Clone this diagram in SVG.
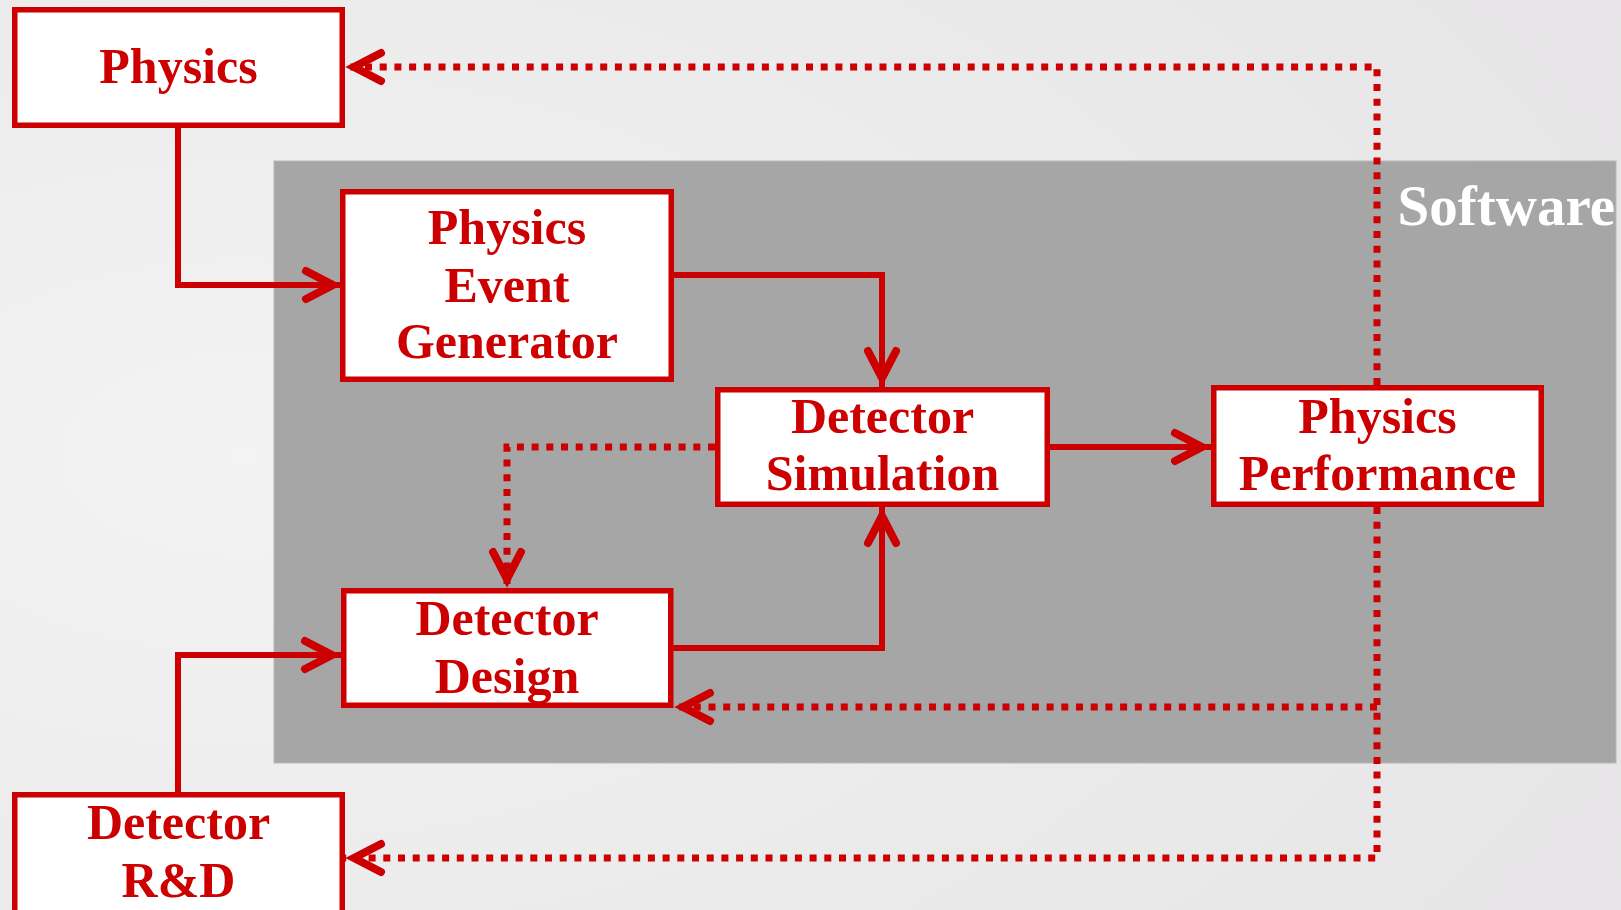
<svg xmlns="http://www.w3.org/2000/svg" width="1621" height="910" viewBox="0 0 1621 910">
  <defs>
    <radialGradient id="bg" cx="0.15" cy="0.5" r="1.1">
      <stop offset="0" stop-color="#f3f3f3"/>
      <stop offset="1" stop-color="#e5e3e5"/>
    </radialGradient>
    <marker id="arrow" markerUnits="userSpaceOnUse" viewBox="-45 -22 55 44" markerWidth="55" markerHeight="44" refX="0" refY="0" orient="auto">
      <path d="M -36 -14 L -9 0 L -36 14" fill="none" stroke="#cc0000" stroke-width="8" stroke-linecap="round" stroke-linejoin="miter"/>
    </marker>
    <style>
      .box { fill: #ffffff; stroke: #cc0000; stroke-width: 5.5; }
      .label { font-family: "Liberation Serif", "Times New Roman", serif; font-weight: bold; font-size: 50px; fill: #cc0000; text-anchor: middle; }
      .solid { fill: none; stroke: #cc0000; stroke-width: 6; marker-end: url(#arrow); }
      .dotted { fill: none; stroke: #cc0000; stroke-width: 7; stroke-dasharray: 7 7.7; marker-end: url(#arrow); }
      .title { font-family: "Liberation Serif", "Times New Roman", serif; font-weight: bold; font-size: 57px; fill: #ffffff; text-anchor: end; }
    </style>
  </defs>

  <!-- page background -->
  <rect x="0" y="0" width="1621" height="910" fill="url(#bg)"/>

  <!-- software region -->
  <g id="software">
    <rect x="274" y="161" width="1342" height="602" fill="#a6a6a6" stroke="#b8b8b8" stroke-width="1"/>
    <text class="title" x="1615" y="225">Software</text>
  </g>

  <!-- connectors -->
  <g id="connectors">
    <path class="solid" d="M178 128 V285 H342"/>
    <path class="solid" d="M674 275 H882 V387"/>
    <path class="solid" d="M673 648 H882 V507"/>
    <path class="solid" d="M178 792 V655 H341"/>
    <path class="solid" d="M1050 447 H1211"/>
    <path class="dotted" d="M715 447 H507 V588"/>
    <path class="dotted" d="M1377 385 V67 H345"/>
    <path class="dotted" d="M1377 507 V858 H345"/>
    <path class="dotted" d="M1377 707 H674"/>
  </g>

  <g id="physics">
    <rect class="box" x="14.75" y="9.75" width="327.5" height="115.5"/>
    <text class="label" x="178.5" y="83">Physics</text>
  </g>

  <g id="event-generator">
    <rect class="box" x="342.75" y="191.75" width="328.5" height="187.5"/>
    <text class="label" x="507" y="244">Physics</text>
    <text class="label" x="507" y="302">Event</text>
    <text class="label" x="507" y="358">Generator</text>
  </g>

  <g id="detector-simulation">
    <rect class="box" x="717.75" y="389.75" width="329.5" height="114.5"/>
    <text class="label" x="882.5" y="433">Detector</text>
    <text class="label" x="882.5" y="490">Simulation</text>
  </g>

  <g id="physics-performance">
    <rect class="box" x="1213.75" y="387.75" width="327.5" height="116.5"/>
    <text class="label" x="1377.5" y="433">Physics</text>
    <text class="label" x="1377.5" y="490">Performance</text>
  </g>

  <g id="detector-design">
    <rect class="box" x="343.75" y="590.75" width="327" height="114.5"/>
    <text class="label" x="507" y="635">Detector</text>
    <text class="label" x="507" y="693">Design</text>
  </g>

  <g id="detector-rnd">
    <rect class="box" x="14.75" y="794.75" width="327.5" height="120"/>
    <text class="label" x="178.5" y="839">Detector</text>
    <text class="label" x="178.5" y="897">R&amp;D</text>
  </g>
</svg>
